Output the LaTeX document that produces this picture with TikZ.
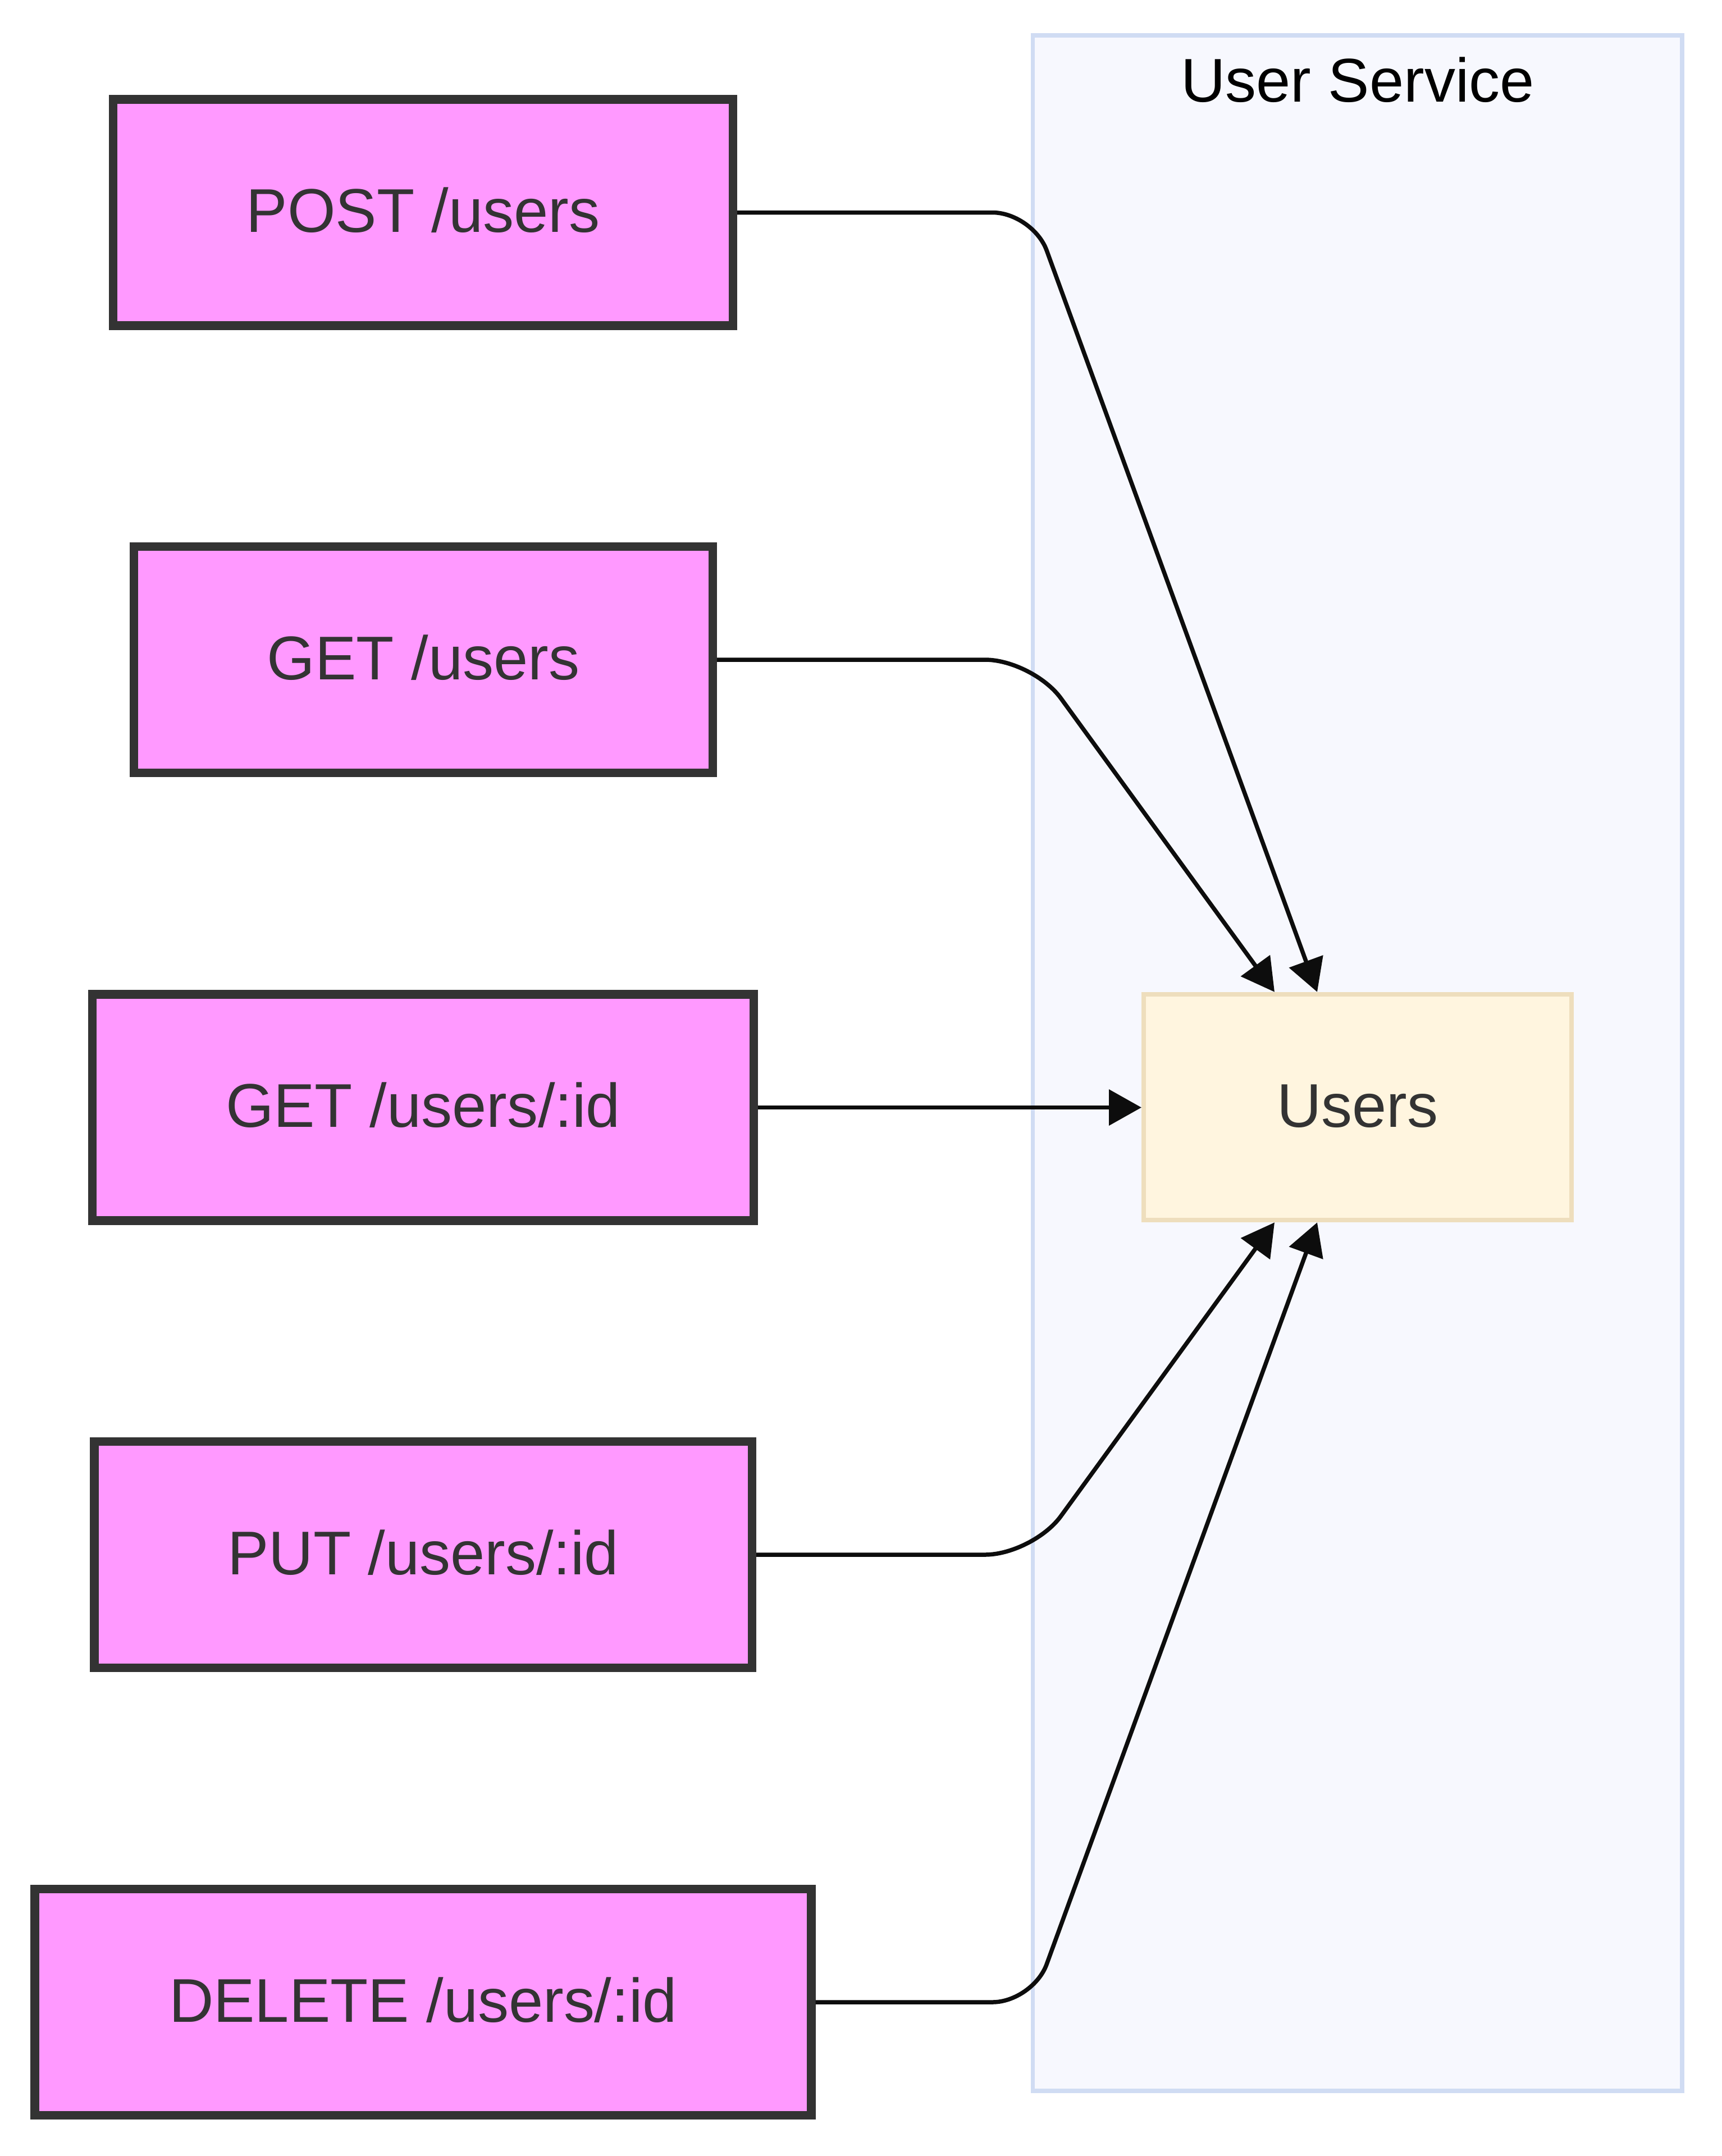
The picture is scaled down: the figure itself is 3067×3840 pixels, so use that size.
\documentclass[tikz,border=0pt]{standalone}
\usepackage{fontspec}
\setmainfont{Liberation Sans}
\usetikzlibrary{arrows.meta,calc}
\definecolor{pinkfill}{HTML}{FF99FF}
\definecolor{boxline}{HTML}{333333}
\definecolor{clfill}{HTML}{F7F8FE}
\definecolor{clline}{HTML}{D0DCF3}
\definecolor{usfill}{HTML}{FFF5DF}
\definecolor{usline}{HTML}{EEDEBD}
\definecolor{edgec}{HTML}{0D0D0D}
\tikzset{
  api/.style={draw=boxline, fill=pinkfill, line width=1.55pt, minimum height=40.3pt,
    inner sep=0pt, text=boxline, font=\fontsize{11pt}{13pt}\selectfont,
    text height=7.88pt, text depth=0.8pt},
  target/.style={draw=usline, fill=usfill, line width=0.8pt, minimum width=76.2pt,
    minimum height=40.25pt, inner sep=0pt, text=boxline, font=\fontsize{11pt}{13pt}\selectfont,
    text height=7.88pt, text depth=0.8pt},
  cluster/.style={draw=clline, fill=clfill, line width=0.75pt, outer sep=0pt, inner sep=0pt},
  edge/.style={draw=edgec, line width=0.75pt, -{Triangle[length=5.8pt,width=6.3pt]}}
}
\begin{document}
\begin{tikzpicture}[x=0.1pt,y=-0.1pt]
\useasboundingbox (0,0) rectangle (3067,3840);
\fill[white] (0,0) rectangle (3067,3840);
% cluster
\node[cluster, minimum width=115.65pt, minimum height=366.1pt] (cl) at (2417.75,1893.5) {};
\node[anchor=base, font=\fontsize{11pt}{13pt}\selectfont, text=black, inner sep=0pt] (title) at (2418,181) {User Service};
% nodes
\node[api, minimum width=110.4pt] (post) at (753.5,378.5) {POST /users};
\node[api, minimum width=103.1pt] (getall) at (754,1175) {GET /users};
\node[api, minimum width=117.8pt] (getid) at (753.5,1972.5) {GET /users/:id};
\node[api, minimum width=117.15pt] (put) at (753.75,2769) {PUT /users/:id};
\node[api, minimum width=138.3pt] (del) at (753.5,3566) {DELETE /users/:id};
\node[target] (users) at (2418,1972) {Users};
% edges
\draw[edge, rounded corners=7.2pt] (post.east) -- (post.east -| cl.west) -- ([xshift=-7.2pt]users.north);
\draw[edge, rounded corners=8.5pt] (getall.east) -- (getall.east -| cl.west) -- ([xshift=-14.8pt]users.north);
\draw[edge] (getid.east) -- (getid.east -| users.west);
\draw[edge, rounded corners=8.5pt] (put.east) -- (put.east -| cl.west) -- ([xshift=-14.8pt]users.south);
\draw[edge, rounded corners=7.2pt] (del.east) -- (del.east -| cl.west) -- ([xshift=-7.2pt]users.south);
\end{tikzpicture}
\end{document}
